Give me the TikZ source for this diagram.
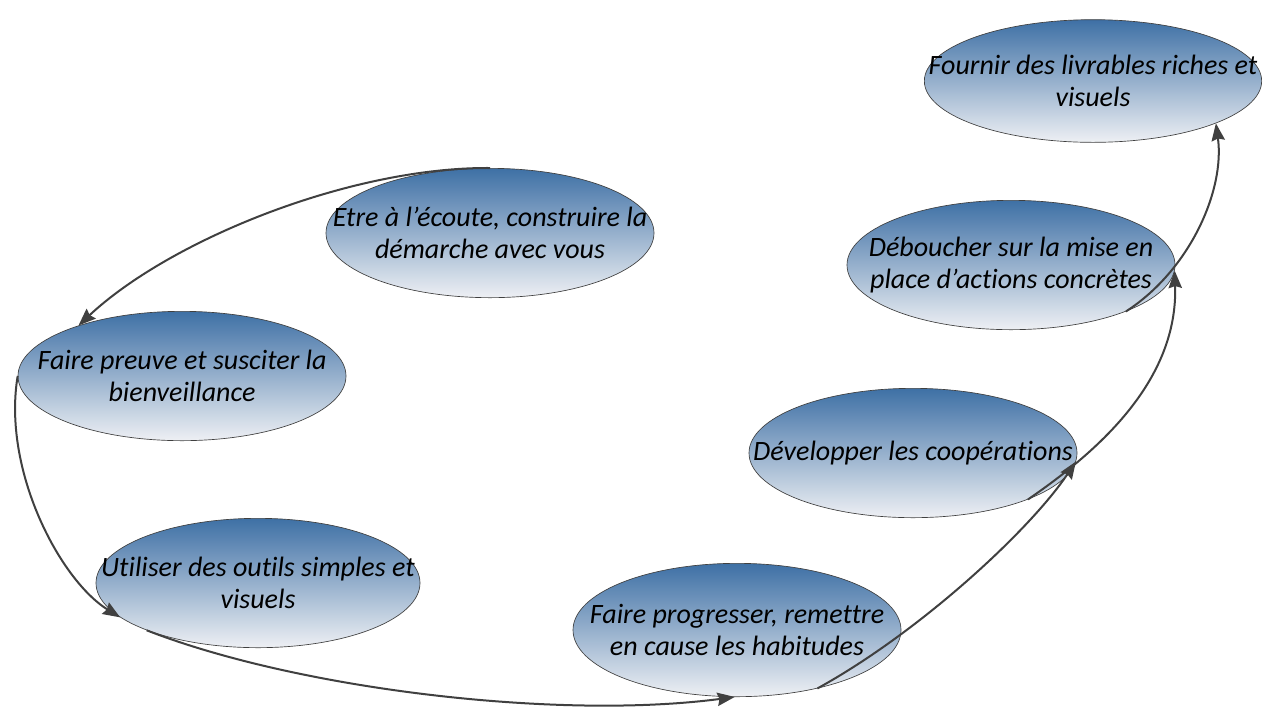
\documentclass[tikz,border=0pt]{standalone}
\usepackage{fontspec}
\setmainfont{Carlito}[Ligatures={NoCommon}]
\usepackage{tikz}
\usetikzlibrary{shapes.geometric,arrows.meta}
\pgfdeclarelayer{edgelayer}
\pgfdeclarelayer{nodelayer}
\pgfsetlayers{main,nodelayer,edgelayer}
\definecolor{etop}{RGB}{62,112,165}
\definecolor{ebot}{RGB}{238,240,244}
\definecolor{egray}{RGB}{64,64,64}
\tikzstyle{goal}=[ellipse,draw=egray,line width=0.5pt,top color=etop,bottom color=ebot,minimum width=246pt,minimum height=97pt,inner sep=-60pt,align=center,font=\itshape\fontsize{21}{24}\selectfont]
\tikzstyle{flow}=[-{Stealth[length=13pt,width=10pt,inset=1.5pt]},draw=egray,line width=1.5pt]

\begin{document}
\begin{tikzpicture}[x=0.75pt,y=-0.75pt]
	\useasboundingbox (0,0) rectangle (1274,708);
	\begin{pgfonlayer}{nodelayer}
		\node [style=goal] (ecoute) at (490, 233) {Etre à l’écoute, construire la\\démarche avec vous};
		\node [style=goal] (bienv) at (182, 376) {Faire preuve et susciter la\\bienveillance};
		\node [style=goal, minimum width=243pt] (outils) at (258, 583) {Utiliser des outils simples et\\visuels};
		\node [style=goal, minimum height=100pt] (progres) at (737, 630) {Faire progresser, remettre\\en cause les habitudes};
		\node [style=goal] (coop) at (913, 453) {Développer les coopérations};
		\node [style=goal] (action) at (1011, 265) {Déboucher sur la mise en\\place d’actions concrètes};
		\node [style=goal, minimum width=253pt, minimum height=92pt] (livr) at (1093, 81) {Fournir des livrables riches et\\visuels};
	\end{pgfonlayer}
	\begin{pgfonlayer}{edgelayer}
		\draw [style=flow] (ecoute.north) .. controls (350, 167) and (170, 240) .. (bienv.154);
		\draw [style=flow] (bienv.west) .. controls (2, 470) and (60, 580) .. (outils.194);
		\draw [style=flow] (outils.203) .. controls (300, 690) and (560, 720) .. (progres.268);
		\draw [style=flow] (progres.-36) .. controls (920, 632) and (1030, 530) .. (coop.-3);
		\draw [style=flow] (coop.-22) .. controls (1100, 450) and (1178, 380) .. (action.-2);
		\draw [style=flow] (action.-22) .. controls (1190, 270) and (1225, 190) .. (livr.-19);
	\end{pgfonlayer}
\end{tikzpicture}
\end{document}
